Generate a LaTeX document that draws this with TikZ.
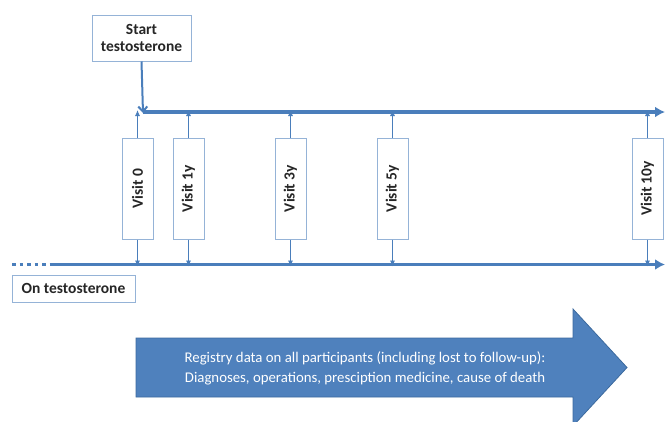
\documentclass[tikz,border=0pt]{standalone}
\usepackage{fontspec}
\setmainfont{Carlito}
\usetikzlibrary{arrows.meta}
\definecolor{lineblue}{HTML}{4A7EBB}
\definecolor{boxblue}{HTML}{95B3D7}
\definecolor{arrowblue}{HTML}{4F81BD}
\definecolor{arrowedge}{HTML}{3C6A9E}
\definecolor{textgray}{HTML}{262626}

\begin{document}
\begin{tikzpicture}[x=1pt,y=-1pt,
    every node/.append style={font=\fontsize{15.5}{19}\selectfont\bfseries,text=textgray},
    box/.style={draw=boxblue,line width=1pt,fill=white,inner sep=0pt},
    visitbox/.style={box,rotate=90,minimum width=101pt,minimum height=31pt},
    timeline/.style={lineblue,line width=3.5pt},
    tick/.style={lineblue,line width=0.8pt,-{Latex[length=6pt,width=5pt]}}]
    \useasboundingbox (0,0) rectangle (665,421);

    \node[box,minimum width=99pt,minimum height=46pt,align=center] (start) at (141.5,38) {Start\\[-2pt]testosterone};
    \node[box,minimum width=123pt,minimum height=27pt] (ontest) at (73.5,288.5) {On testosterone};

    \coordinate (top0) at (143,112);
    \coordinate (topend) at (665,112);
    \coordinate (dots) at (12,264.5);
    \coordinate (low0) at (50,264.5);
    \coordinate (lowend) at (665,264.5);

    % the two time lines
    \draw[timeline,-{Latex[length=10pt,width=11pt]}] (top0) -- (topend);
    \draw[timeline,-{Latex[length=10pt,width=11pt]}] (low0) -- (lowend);
    \draw[timeline,dash pattern=on 3.5pt off 4pt] (dots) -- (low0);
    \draw[lineblue,line width=2pt,-{Straight Barb[length=5pt,width=9pt]}] (start.south) -- ([yshift=-1pt]top0);

    \node[visitbox] (v0) at (137.5,188.5) {Visit 0};
    \node[visitbox] (v1) at (188.5,188.5) {Visit 1y};
    \node[visitbox] (v3) at (290.5,188.5) {Visit 3y};
    \node[visitbox] (v5) at (392.5,188.5) {Visit 5y};
    \node[visitbox] (v10) at (647.5,188.5) {Visit 10y};

    \foreach \v in {v0,v1,v3,v5,v10} {
        \draw[tick] (\v.east) -- ([yshift=2pt]\v.east |- top0);
        \draw[tick] (\v.west) -- ([yshift=-2pt]\v.west |- low0);
    }

    % registry arrow
    \filldraw[fill=arrowblue,draw=arrowedge,line width=0.8pt]
        (136,338) -- (573,338) -- (573,309) -- (627,367.5) -- (573,426)
        -- (573,397) -- (136,397) -- cycle;
    \node[font=\fontsize{14.8}{20}\selectfont,text=white,align=center] (registry) at (365,368)
        {Registry data on all participants (including lost to follow-up):\\Diagnoses, operations, presciption medicine, cause of death};
\end{tikzpicture}
\end{document}
